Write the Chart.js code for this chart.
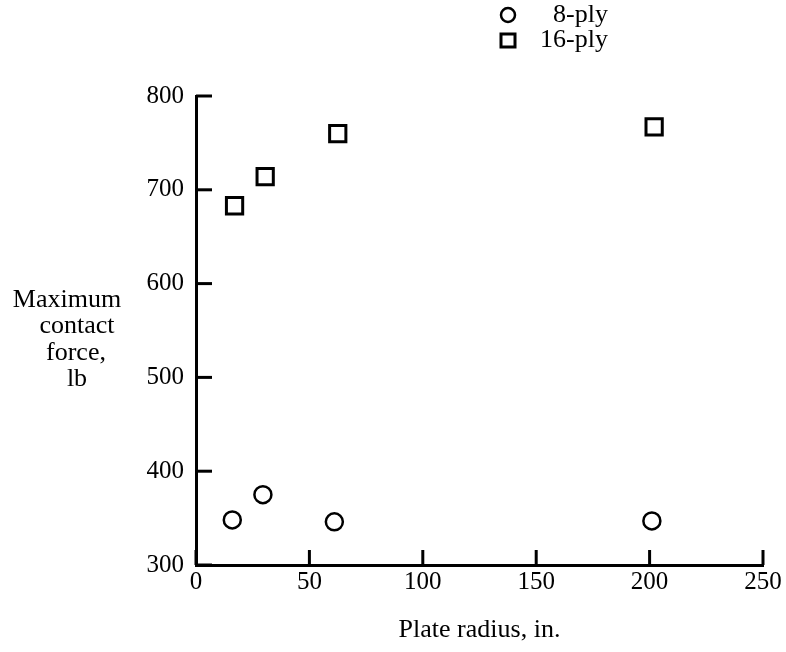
<!DOCTYPE html>
<html>
<head>
<meta charset="utf-8">
<script src="https://cdn.jsdelivr.net/npm/chart.js@4"></script>
<style>
  html, body { margin: 0; padding: 0; background: #fff; }
  #wrap { width: 786px; height: 652px; position: relative; }
</style>
</head>
<body>
<div id="wrap"><canvas id="forceChart"></canvas></div>
<script>
"use strict";

// Data
const radius8 = [16, 29.5, 61, 201];
const force8 = [348, 375, 346, 347];
const radius16 = [17, 30.5, 62.5, 202];
const force16 = [683, 714, 760, 767];

const xTicks = [0, 50, 100, 150, 200, 250];
const yTicks = [300, 400, 500, 600, 700, 800];

const yTitle = ["Maximum", "contact", "force,", "lb"];
const xTitle = "Plate radius, in.";

Chart.defaults.font.family = "'Liberation Serif', 'DejaVu Serif', serif";
Chart.defaults.font.size = 25;
Chart.defaults.color = "#000";

// Tick marks pointing into the plot
const inwardTicks = {
    id: "inwardTicks",
    afterDraw(chart) {
        const { ctx, chartArea } = chart;
        const x = chart.scales.x;
        const y = chart.scales.y;
        ctx.save();
        ctx.strokeStyle = "#000";
        ctx.lineWidth = 3;
        x.ticks.forEach((t) => {
            const px = x.getPixelForValue(t.value);
            ctx.beginPath();
            ctx.moveTo(px, chartArea.bottom);
            ctx.lineTo(px, chartArea.bottom - 15);
            ctx.stroke();
        });
        y.ticks.forEach((t) => {
            const py = y.getPixelForValue(t.value);
            ctx.beginPath();
            ctx.moveTo(chartArea.left, py);
            ctx.lineTo(chartArea.left + 16, py);
            ctx.stroke();
        });
        ctx.restore();
    }
};

// Y title (horizontal, several lines) and legend at the top
const labels = {
    id: "labels",
    afterDraw(chart) {
        const ctx = chart.ctx;
        ctx.save();
        ctx.fillStyle = "#000";
        ctx.font = "26px 'Liberation Serif', serif";
        ctx.textAlign = "center";
        ctx.textBaseline = "middle";
        const lineX = [67, 77, 76, 77];
        yTitle.forEach((line, i) => {
            ctx.fillText(line, lineX[i], 300 + i * 26.5);
        });

        // legend
        ctx.strokeStyle = "#000";
        ctx.lineWidth = 2.5;
        ctx.beginPath();
        ctx.arc(508, 15, 7, 0, Math.PI * 2);
        ctx.stroke();
        ctx.lineWidth = 3;
        ctx.strokeRect(501, 34, 14, 13);
        ctx.textAlign = "right";
        chart.data.datasets.forEach((ds, i) => {
            ctx.fillText(ds.label, 608, 15 + i * 25);
        });
        ctx.restore();
    }
};

const ctx = document.getElementById("forceChart");

new Chart(ctx, {
    type: "scatter",
    data: {
        datasets: [{
            label: "8-ply",
            data: radius8.map((r, i) => ({ x: r, y: force8[i] })),
            pointStyle: "circle",
            pointRadius: 8.5,
            pointBorderWidth: 2.5,
            borderColor: "#000",
            backgroundColor: "#fff",
            clip: false
        }, {
            label: "16-ply",
            data: radius16.map((r, i) => ({ x: r, y: force16[i] })),
            pointStyle: "rect",
            pointRadius: 11.5,
            pointBorderWidth: 3,
            borderColor: "#000",
            backgroundColor: "#fff",
            clip: false
        }]
    },
    options: {
        responsive: true,
        maintainAspectRatio: false,
        animation: false,
        events: [],
        layout: {
            padding: { left: 0, right: 23, top: 96, bottom: 0 }
        },
        plugins: {
            legend: { display: false },
            tooltip: { enabled: false }
        },
        scales: {
            x: {
                type: "linear",
                min: 0,
                max: 250,
                afterBuildTicks: (s) => { s.ticks = xTicks.map((v) => ({ value: v })); },
                afterFit: (s) => { s.height = 87; },
                grid: { display: false, drawTicks: false },
                border: { display: true, color: "#000", width: 3 },
                ticks: { padding: 2, maxRotation: 0, font: { size: 25 } },
                title: {
                    display: true,
                    text: xTitle,
                    font: { size: 26 },
                    padding: { top: 0, bottom: 6 }
                }
            },
            y: {
                type: "linear",
                min: 300,
                max: 800,
                afterBuildTicks: (s) => { s.ticks = yTicks.map((v) => ({ value: v })); },
                afterFit: (s) => { s.width = 196; },
                grid: { display: false, drawTicks: false },
                border: { display: true, color: "#000", width: 3 },
                ticks: { padding: 12, font: { size: 25 } }
            }
        }
    },
    plugins: [inwardTicks, labels]
});
</script>
</body>
</html>
